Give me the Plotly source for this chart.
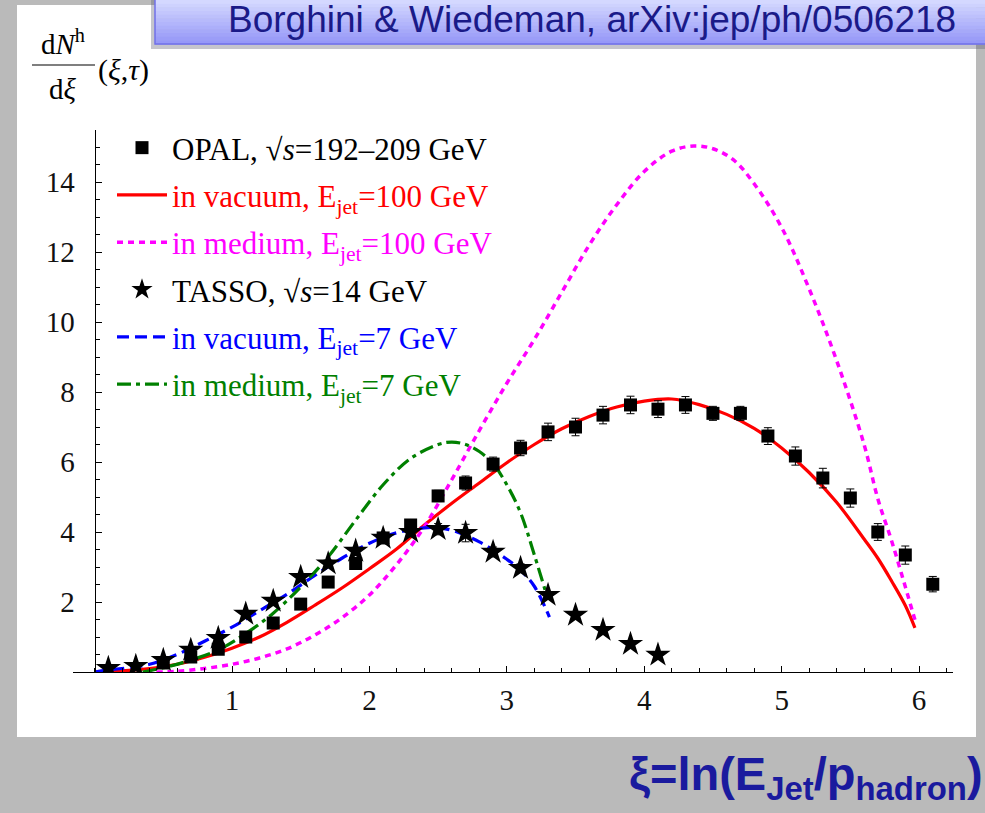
import plotly.graph_objects as go

W, H = 985, 813


def px(x):
    return x / W


def py(y):
    return 1 - y / H


# ---------------- data ----------------
opal_x = [0.5, 0.7, 0.9, 1.1, 1.3, 1.5, 1.7, 1.9, 2.1, 2.3, 2.5, 2.7, 2.9, 3.1, 3.3, 3.5,
          3.7, 3.9, 4.1, 4.3, 4.5, 4.7, 4.9, 5.1, 5.3, 5.5, 5.7, 5.9, 6.1]
opal_y = [0.26, 0.43, 0.65, 1.0, 1.4, 1.94, 2.57, 3.1, 3.83, 4.2, 5.03, 5.4, 5.94, 6.4, 6.86, 7.0,
          7.34, 7.63, 7.51, 7.63, 7.39, 7.39, 6.74, 6.17, 5.54, 4.97, 4.0, 3.34, 2.51]
opal_err = [0.03, 0.03, 0.04, 0.05, 0.06, 0.07, 0.08, 0.1, 0.12, 0.14, 0.16, 0.2, 0.2, 0.22, 0.25, 0.25,
            0.25, 0.25, 0.24, 0.24, 0.2, 0.2, 0.24, 0.26, 0.28, 0.26, 0.24, 0.26, 0.22]

tasso_x = [0.1, 0.3, 0.5, 0.7, 0.9, 1.1, 1.3, 1.5, 1.7, 1.9, 2.1, 2.3, 2.5, 2.7, 2.9, 3.1, 3.3,
           3.5, 3.7, 3.9, 4.1]
tasso_y = [0.11, 0.17, 0.34, 0.63, 0.97, 1.66, 2.03, 2.71, 3.1, 3.46, 3.83, 4.0, 4.08, 3.97, 3.43,
           2.97, 2.2, 1.63, 1.2, 0.8, 0.49]
tasso_err = [0.02, 0.02, 0.03, 0.04, 0.05, 0.06, 0.07, 0.08, 0.1, 0.1, 0.12, 0.14, 0.16, 0.25, 0.14,
             0.12, 0.1, 0.08, 0.06, 0.05, 0.04]

vac100_x = [0.0, 0.2, 0.4, 0.6, 0.8, 1.0, 1.2, 1.4, 1.6, 1.8, 2.0, 2.2, 2.4, 2.6, 2.8, 3.0, 3.2,
            3.4, 3.6, 3.8, 4.0, 4.2, 4.4, 4.6, 4.8, 5.0, 5.2, 5.4, 5.6, 5.7, 5.8, 5.9, 5.97]
vac100_y = [0.0, 0.03, 0.1, 0.22, 0.42, 0.68, 1.0, 1.42, 1.9, 2.4, 2.95, 3.52, 4.2, 4.82, 5.4, 5.98, 6.5,
            6.95, 7.3, 7.57, 7.74, 7.8, 7.64, 7.36, 6.96, 6.4, 5.7, 4.85, 3.8, 3.25, 2.6, 1.9, 1.26]

med100_x = [0.45, 0.6, 0.8, 1.0, 1.2, 1.4, 1.6, 1.8, 2.0, 2.2, 2.4, 2.6, 2.8, 3.0, 3.2, 3.4, 3.6,
            3.8, 4.0, 4.2, 4.36, 4.5, 4.65, 4.8, 5.0, 5.2, 5.4, 5.6, 5.7, 5.8, 5.97]
med100_y = [0.0, 0.02, 0.1, 0.22, 0.4, 0.66, 1.05, 1.55, 2.2, 3.08, 4.15, 5.5, 6.9, 8.25, 9.5, 10.85, 12.2,
            13.35, 14.3, 14.88, 15.03, 14.95, 14.63, 13.95, 12.7, 10.95, 8.9, 6.5, 4.95, 3.75, 1.49]

vac7_x = [0.0, 0.1, 0.2, 0.4, 0.6, 0.8, 1.0, 1.2, 1.4, 1.6, 1.8, 2.0, 2.2, 2.4, 2.5, 2.6, 2.8,
          3.0, 3.1, 3.2, 3.31]
vac7_y = [0.0, 0.06, 0.1, 0.22, 0.5, 0.88, 1.28, 1.75, 2.22, 2.75, 3.25, 3.68, 3.98, 4.12, 4.12, 4.05,
          3.72, 3.22, 2.91, 2.45, 1.57]

med7_x = [0.35, 0.5, 0.7, 0.9, 1.1, 1.3, 1.5, 1.7, 1.9, 2.1, 2.3, 2.5, 2.6, 2.7, 2.8, 2.9, 3.0,
          3.1, 3.2, 3.3]
med7_y = [0.0, 0.12, 0.34, 0.63, 1.1, 1.68, 2.43, 3.29, 4.34, 5.35, 6.1, 6.5, 6.57, 6.5, 6.3, 5.95, 5.35,
          4.55, 3.35, 2.06]

x_ticks = [1, 2, 3, 4, 5, 6]
y_ticks = [2, 4, 6, 8, 10, 12, 14]

names = [
    "OPAL, √<i>s</i>=192–209 GeV",
    "<span style='color:#ff0000'>in vacuum, E<sub>jet</sub>=100 GeV</span>",
    "<span style='color:#ff00ff'>in medium, E<sub>jet</sub>=100 GeV</span>",
    "TASSO, √<i>s</i>=14 GeV",
    "<span style='color:#0000ff'>in vacuum, E<sub>jet</sub>=7 GeV</span>",
    "<span style='color:#008000'>in medium, E<sub>jet</sub>=7 GeV</span>",
]

# ---------------- figure ----------------
fig = go.Figure()

SERIF = "Liberation Serif, Times New Roman, serif"

fig.add_trace(go.Scatter(x=vac100_x, y=vac100_y, mode="lines", name=names[1],
                         line=dict(color="#ff0000", width=3.2, shape="spline"),
                         legendgroup="g2", legendrank=2))
fig.add_trace(go.Scatter(x=med100_x, y=med100_y, mode="lines", name=names[2],
                         line=dict(color="#ff00ff", width=3.5, dash="6px,5px", shape="spline"),
                         legendgroup="g3", legendrank=3))
fig.add_trace(go.Scatter(x=vac7_x, y=vac7_y, mode="lines", name=names[4],
                         line=dict(color="#0000ff", width=3.2, dash="12px,6px", shape="spline"),
                         legendgroup="g5", legendrank=5))
fig.add_trace(go.Scatter(x=med7_x, y=med7_y, mode="lines", name=names[5],
                         line=dict(color="#008000", width=3.2, dash="14px,5px,4px,5px", shape="spline"),
                         legendgroup="g6", legendrank=6))
fig.add_trace(go.Scatter(x=opal_x, y=opal_y, mode="markers", name=names[0],
                         marker=dict(symbol="square", size=13, color="black"),
                         error_y=dict(type="data", array=opal_err, color="black", thickness=1, width=4),
                         legendgroup="g1", legendrank=1))
fig.add_trace(go.Scatter(x=tasso_x, y=tasso_y, mode="markers", name=names[3],
                         marker=dict(symbol="star", size=19, color="black"),
                         error_y=dict(type="data", array=tasso_err, color="black", thickness=1, width=4),
                         legendgroup="g4", legendrank=4))

x_lo, x_hi = -0.16, 6.25
dom_x0, dom_x1 = px(72.6), px(953.4)
y_lo, y_hi = 0, 15.5

fig.update_layout(
    width=W, height=H, autosize=False,
    margin=dict(l=0, r=0, t=0, b=0),
    paper_bgcolor="#bababa",
    plot_bgcolor="white",
    showlegend=True,
    legend=dict(x=px(112), y=py(121), xanchor="left", yanchor="top",
                bgcolor="rgba(0,0,0,0)", font=dict(family=SERIF, size=31, color="black"),
                tracegroupgap=4, traceorder="grouped", itemwidth=50),
    xaxis=dict(domain=[dom_x0, dom_x1], range=[x_lo, x_hi], showgrid=False, zeroline=False,
               showline=True, linecolor="black", linewidth=1.2,
               tickmode="array", tickvals=x_ticks, ticks="inside", ticklen=6, tickcolor="black",
               tickwidth=1, ticklabelstandoff=2,
               tickfont=dict(family=SERIF, size=29, color="#111111"),
               minor=dict(tickmode="linear", tick0=0, dtick=0.2, ticks="inside", ticklen=4,
                          tickcolor="black", tickwidth=1)),
    yaxis=dict(domain=[py(672), py(129.5)], range=[y_lo, y_hi], anchor="free",
               position=px(94.6), showgrid=False, zeroline=False,
               showline=True, linecolor="black", linewidth=1.2,
               tickmode="array", tickvals=y_ticks, ticks="inside", ticklen=6, tickcolor="black",
               tickwidth=1, ticklabelstandoff=14,
               tickfont=dict(family=SERIF, size=29, color="#111111"),
               minor=dict(tickmode="linear", tick0=0, dtick=0.5, ticks="inside", ticklen=4,
                          tickcolor="black", tickwidth=1)),
)

shapes = []
# white panel
shapes.append(dict(type="rect", xref="paper", yref="paper", x0=px(17), x1=px(976), y0=py(737), y1=py(5),
                   fillcolor="white", line=dict(width=0), layer="below"))
# title box shadow
shapes.append(dict(type="rect", xref="paper", yref="paper", x0=px(151), x1=px(985), y0=py(49), y1=py(0),
                   fillcolor="rgba(90,90,110,0.35)", line=dict(width=0), layer="above"))
# title box gradient (stripes)
n = 12
top_c = (212, 216, 255)
bot_c = (150, 152, 248)
y_top, y_bot = 0, 44
for i in range(n):
    t = i / (n - 1)
    c = tuple(int(top_c[k] + (bot_c[k] - top_c[k]) * t) for k in range(3))
    ya = y_top + (y_bot - y_top) * i / n
    yb = y_top + (y_bot - y_top) * (i + 1) / n
    shapes.append(dict(type="rect", xref="paper", yref="paper", x0=px(155), x1=px(990),
                       y0=py(yb + 0.5), y1=py(ya), fillcolor="rgb(%d,%d,%d)" % c,
                       line=dict(width=0), layer="above"))
shapes.append(dict(type="rect", xref="paper", yref="paper", x0=px(155), x1=px(990), y0=py(44), y1=py(-2),
                   fillcolor="rgba(0,0,0,0)", line=dict(color="#7070e8", width=1.5), layer="above"))
# fraction bar of y label
shapes.append(dict(type="line", xref="paper", yref="paper", x0=px(32), x1=px(95), y0=py(65), y1=py(65),
                   line=dict(color="black", width=1.2)))
fig.update_layout(shapes=shapes)

annotations = [
    dict(text="Borghini & Wiedeman, arXiv:jep/ph/0506218", x=px(592), y=py(19), xref="paper", yref="paper",
         showarrow=False, xanchor="center", yanchor="middle",
         font=dict(family="Liberation Sans, Arial, sans-serif", size=37, color="#1a1a88")),
    dict(text="d<i>N</i><sup>h</sup>", x=px(63), y=py(42), xref="paper", yref="paper", showarrow=False,
         xanchor="center", yanchor="middle", font=dict(family=SERIF, size=29, color="black")),
    dict(text="d<i>ξ</i>", x=px(63), y=py(89), xref="paper", yref="paper", showarrow=False,
         xanchor="center", yanchor="middle", font=dict(family=SERIF, size=29, color="black")),
    dict(text="(<i>ξ</i>,<i>τ</i>)", x=px(96), y=py(70), xref="paper", yref="paper", showarrow=False,
         xanchor="left", yanchor="middle", font=dict(family=SERIF, size=30, color="black")),
    dict(text="<b>ξ=ln(E<sub>Jet</sub>/p<sub>hadron</sub>)</b>", x=px(985), y=py(777), xref="paper",
         yref="paper", showarrow=False, xanchor="right", yanchor="middle",
         font=dict(family="Liberation Sans, Arial, sans-serif", size=47, color="#1a1a9e")),
]
fig.update_layout(annotations=annotations)

fig.write_html("out.html")
